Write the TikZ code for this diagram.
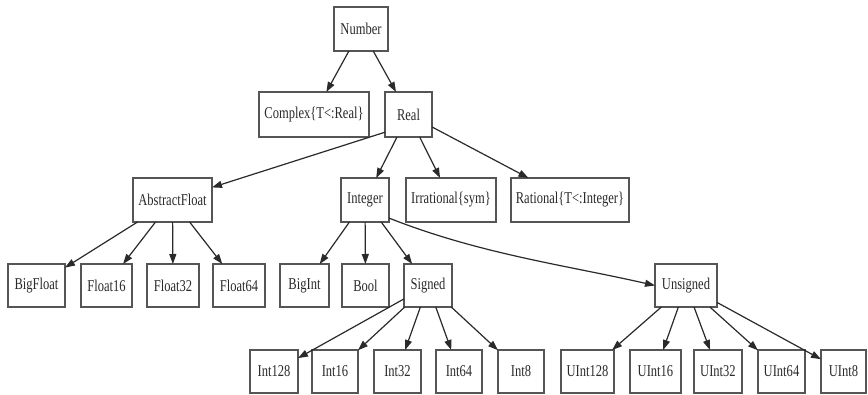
\documentclass[tikz,border=0pt]{standalone}
\usepackage{fontspec}
\setmainfont{Liberation Serif}[FakeStretch=0.76]
\usetikzlibrary{arrows.meta}
\definecolor{boxline}{HTML}{555555}
\definecolor{inkc}{HTML}{2A2A2A}
\tikzset{
  box/.style={draw=boxline, line width=1.4pt, fill=white, inner sep=0pt, outer sep=0pt,
    minimum height=43pt, text=inkc, font=\fontsize{16.5}{19}\selectfont},
  edge/.style={draw=inkc, line width=1.2pt, -{Triangle[length=10pt,width=7pt]}}
}
\begin{document}
\begin{tikzpicture}[x=1pt,y=-1pt]
\useasboundingbox (0,0) rectangle (868,394);
\fill[white] (0,0) rectangle (868,394);
% row 1
\node[box, minimum width=54pt, minimum height=44pt] (number) at (361,29) {Number};
% row 2
\node[box, minimum width=110pt, minimum height=45pt] (complex) at (314,114.5) {Complex\{T<:Real\}};
\node[box, minimum width=47pt, minimum height=45pt] (real) at (408.5,114.5) {Real};
% row 3
\node[box, minimum width=79pt, minimum height=44pt] (abstractfloat) at (172.5,200) {AbstractFloat};
\node[box, minimum width=48pt, minimum height=44pt] (integer) at (365,200) {Integer};
\node[box, minimum width=90pt, minimum height=44pt] (irrational) at (451,200) {Irrational\{sym\}};
\node[box, minimum width=118pt, minimum height=44pt] (rational) at (570,200) {Rational\{T<:Integer\}};
% row 4
\node[box, minimum width=57pt] (bigfloat) at (36.5,285.5) {BigFloat};
\node[box, minimum width=51pt] (float16) at (106.5,285.5) {Float16};
\node[box, minimum width=52pt] (float32) at (173,285.5) {Float32};
\node[box, minimum width=52pt] (float64) at (239,285.5) {Float64};
\node[box, minimum width=49pt] (bigint) at (304.5,285.5) {BigInt};
\node[box, minimum width=47pt] (bool) at (365.5,285.5) {Bool};
\node[box, minimum width=48pt] (signed) at (428,285.5) {Signed};
\node[box, minimum width=62pt] (unsigned) at (686,285.5) {Unsigned};
% row 5
\node[box, minimum width=48pt] (int128) at (274,371.5) {Int128};
\node[box, minimum width=46pt] (int16) at (335,371.5) {Int16};
\node[box, minimum width=47pt] (int32) at (397.5,371.5) {Int32};
\node[box, minimum width=46pt] (int64) at (459,371.5) {Int64};
\node[box, minimum width=46pt] (int8) at (521,371.5) {Int8};
\node[box, minimum width=53pt] (uint128) at (587.5,371.5) {UInt128};
\node[box, minimum width=51pt] (uint16) at (655.5,371.5) {UInt16};
\node[box, minimum width=48pt] (uint32) at (718,371.5) {UInt32};
\node[box, minimum width=47pt] (uint64) at (781.5,371.5) {UInt64};
\node[box, minimum width=45pt] (uint8) at (843.5,371.5) {UInt8};
% edges
\draw[edge] (number) -- (complex);
\draw[edge] (number) -- (real);
\draw[edge] (real.217) -- (abstractfloat);
\draw[edge] (real) -- (integer);
\draw[edge] (real) -- (irrational);
\draw[edge] (real) -- (rational);
\draw[edge] (abstractfloat) -- (bigfloat);
\draw[edge] (abstractfloat) -- (float16);
\draw[edge] (abstractfloat) -- (float32);
\draw[edge] (abstractfloat) -- (float64);
\draw[edge] (integer) -- (bigint);
\draw[edge] (integer) -- (bool);
\draw[edge] (integer) -- (signed);
\draw[edge] (integer.-37) .. controls (480,254) and (565,265) .. (unsigned.west);
\draw[edge] (signed) -- (int128);
\draw[edge] (signed) -- (int16);
\draw[edge] (signed) -- (int32);
\draw[edge] (signed) -- (int64);
\draw[edge] (signed) -- (int8);
\draw[edge] (unsigned) -- (uint128);
\draw[edge] (unsigned) -- (uint16);
\draw[edge] (unsigned) -- (uint32);
\draw[edge] (unsigned) -- (uint64);
\draw[edge] (unsigned) -- (uint8);
\end{tikzpicture}
\end{document}
